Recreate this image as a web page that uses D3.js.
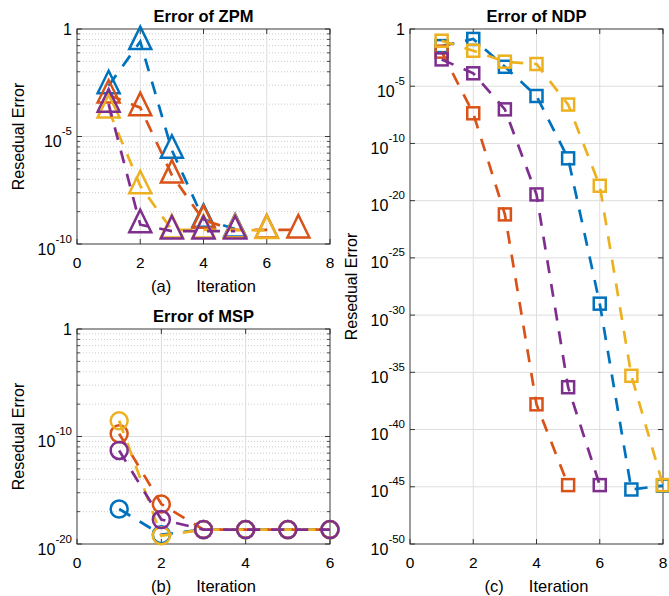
<!DOCTYPE html>
<html>
<head>
<meta charset="utf-8">
<script src="https://cdn.jsdelivr.net/npm/d3@7"></script>
<style>
  body { margin: 0; background: #fff; }
  text { font-family: "Liberation Sans", Arial, sans-serif; fill: #000; }
</style>
</head>
<body>
<svg id="chart" width="669" height="596"></svg>
<script>
// residual error per iteration, iteration = index + 1
var colors = ['#0072BD', '#D95319', '#EDB120', '#7E2F8E'];

var zpmBlue   = [2.3e-3, 2.6e-1, 2.3e-6, 1.4e-9, 5e-10];
var zpmOrange = [8.5e-4, 2.2e-4, 1.6e-7, 1.26e-9, 4.5e-10, 4.5e-10, 4.5e-10];
var zpmYellow = [1.7e-4, 5.1e-8, 4.5e-10, 4.5e-10, 4.5e-10, 4.3e-10];
var zpmPurple = [3.2e-4, 7.9e-10, 4e-10, 4e-10, 4e-10];

var mspBlue   = [1.8e-17, 7.4e-20, 2.2e-19, 2.2e-19, 2.2e-19, 2.2e-19];
var mspOrange = [1.8e-10, 5.2e-17, 2.2e-19, 2.2e-19, 2.2e-19, 2.2e-19];
var mspYellow = [2.9e-9, 6e-20, 2.2e-19, 2.2e-19, 2.2e-19, 2.2e-19];
var mspPurple = [5e-12, 1.9e-18, 2.2e-19, 2.2e-19, 2.2e-19, 2.2e-19];

var ndpBlue   = [3.2e-2, 1.35e-1, 5e-4, 1.4e-6, 5e-12, 1e-24, 5.8e-41, 1.26e-40];
var ndpOrange = [1.05e-2, 4.3e-8, 6.3e-17, 1.6e-33, 1.4e-40];
var ndpYellow = [9.5e-2, 1.26e-2, 1.4e-3, 8.7e-4, 2.5e-7, 2e-14, 5e-31, 1.4e-40];
var ndpPurple = [2.2e-3, 1.35e-4, 9.5e-8, 3.5e-15, 5e-32, 1.4e-40];

var zpmTicks = [1, 1e-5, 1e-10];
var zpmTickLabels = ['', '-5', '-10'];
var mspTicks = [1, 1e-10, 1e-20];
var mspTickLabels = ['', '-10', '-20'];
var ndpTicks = [1, 1e-5, 1e-10, 1e-15, 1e-20, 1e-25, 1e-30, 1e-35, 1e-40, 1e-45];
var ndpTickLabels = ['', '-5', '-10', '-20', '-25', '-30', '-35', '-40', '-45', '-50'];

var svg = d3.select('#chart');

function marker(g, shape, x, y, color) {
  if (shape == 'tri') {
    g.append('path')
      .attr('d', 'M' + x + ',' + (y - 15) + 'L' + (x + 11) + ',' + (y + 7.5) + 'L' + (x - 11) + ',' + (y + 7.5) + 'Z')
      .attr('fill', 'none').attr('stroke', color).attr('stroke-width', 2.5).attr('stroke-linejoin', 'miter');
  } else if (shape == 'circ') {
    g.append('circle').attr('cx', x).attr('cy', y).attr('r', 8.5)
      .attr('fill', 'none').attr('stroke', color).attr('stroke-width', 2.5);
  } else {
    g.append('rect').attr('x', x - 6).attr('y', y - 6).attr('width', 12).attr('height', 12)
      .attr('fill', 'none').attr('stroke', color).attr('stroke-width', 2.5);
  }
}

function panel(p) {
  var x = d3.scaleLinear().domain([0, p.xmax]).range([p.left, p.right]);
  var y = d3.scaleLog().domain([p.ymin, 1]).range([p.bottom, p.top]);
  var g = svg.append('g');

  // minor grid (dotted), placed like the original per major interval
  if (p.minor) {
    var minors = [];
    for (var i = 0; i < p.ticks.length - 1; i++) {
      var lo = Math.log10(p.ticks[i + 1]), step = Math.log10(p.ticks[i]) - lo;
      for (var m = 2; m <= 9; m++) minors.push(Math.pow(10, lo + step * Math.log10(m)));
    }
    g.selectAll('.mg').data(minors).enter().append('line')
      .attr('x1', p.left).attr('x2', p.right)
      .attr('y1', d => y(d)).attr('y2', d => y(d))
      .attr('stroke', '#bdbdbd').attr('stroke-width', 0.8).attr('stroke-dasharray', '1,2');
    // minor ticks
    g.selectAll('.mt').data(minors).enter().append('path')
      .attr('d', d => 'M' + p.left + ',' + y(d) + 'h3M' + p.right + ',' + y(d) + 'h-3')
      .attr('stroke', '#262626').attr('stroke-width', 0.8);
  }
  // major grid
  var xt = d3.range(0, p.xmax + 1, 2);
  g.selectAll('.gy').data(p.ticks.slice(1, -1)).enter().append('line')
    .attr('x1', p.left).attr('x2', p.right)
    .attr('y1', d => y(d)).attr('y2', d => y(d))
    .attr('stroke', '#dedede').attr('stroke-width', 1);
  g.selectAll('.gx').data(xt.slice(1, -1)).enter().append('line')
    .attr('y1', p.top).attr('y2', p.bottom)
    .attr('x1', d => x(d)).attr('x2', d => x(d))
    .attr('stroke', '#dedede').attr('stroke-width', 1);

  // box and major ticks
  g.append('rect').attr('x', p.left).attr('y', p.top)
    .attr('width', p.right - p.left).attr('height', p.bottom - p.top)
    .attr('fill', 'none').attr('stroke', '#262626').attr('stroke-width', 0.9);
  g.selectAll('.ty').data(p.ticks).enter().append('path')
    .attr('d', d => 'M' + p.left + ',' + y(d) + 'h5M' + p.right + ',' + y(d) + 'h-5')
    .attr('stroke', '#262626').attr('stroke-width', 0.9);
  g.selectAll('.tx').data(xt).enter().append('path')
    .attr('d', d => 'M' + x(d) + ',' + p.bottom + 'v-5M' + x(d) + ',' + p.top + 'v5')
    .attr('stroke', '#262626').attr('stroke-width', 0.9);

  // tick labels
  g.selectAll('.lx').data(xt).enter().append('text')
    .attr('x', d => x(d)).attr('y', p.bottom + 24)
    .attr('text-anchor', 'middle').attr('font-size', 15.5).text(d => d);
  p.ticks.forEach(function (t, i) {
    var lab = p.labels[i];
    var tx = g.append('text').attr('x', p.left - 5).attr('text-anchor', 'end').attr('font-size', 16);
    if (lab == '') {
      tx.attr('y', y(t) + 6).text('1');
    } else {
      tx.attr('y', y(t) + 10.5);
      tx.append('tspan').text('10');
      tx.append('tspan').attr('dy', -12).attr('font-size', 11.5).text(lab);
    }
  });

  // titles and labels
  var cx = (p.left + p.right) / 2;
  g.append('text').attr('x', cx).attr('y', p.top - 7).attr('text-anchor', 'middle')
    .attr('font-size', 16.5).attr('font-weight', 'bold').text(p.title);
  var xl = g.append('text').attr('x', cx).attr('y', p.bottom + 48)
    .attr('text-anchor', 'middle').attr('font-size', 16.5);
  xl.append('tspan').text(p.tag);
  xl.append('tspan').attr('dx', 25).text('Iteration');
  g.append('text')
    .attr('transform', 'translate(' + p.ylabX + ',' + (p.top + p.bottom) / 2 + ') rotate(-90)')
    .attr('text-anchor', 'middle').attr('font-size', 16).text('Resedual Error');

  // series: dashed line then hollow markers
  p.series.forEach(function (s, k) {
    var line = d3.line().x((d, i) => x(i + 1)).y(d => y(d));
    g.append('path').attr('d', line(s)).attr('fill', 'none')
      .attr('stroke', colors[k]).attr('stroke-width', 2.7).attr('stroke-dasharray', '13,11');
    s.forEach(function (d, i) { marker(g, p.shape, x(i + 1), y(d), colors[k]); });
  });
}

panel({ left: 77, right: 330, top: 29, bottom: 244, xmax: 8, ymin: 1e-10,
  ticks: zpmTicks, labels: zpmTickLabels, minor: true, shape: 'tri',
  title: 'Error of ZPM', tag: '(a)', ylabX: 24,
  series: [zpmBlue, zpmOrange, zpmYellow, zpmPurple] });

panel({ left: 77, right: 330, top: 329, bottom: 544, xmax: 6, ymin: 1e-20,
  ticks: mspTicks, labels: mspTickLabels, minor: true, shape: 'circ',
  title: 'Error of MSP', tag: '(b)', ylabX: 24,
  series: [mspBlue, mspOrange, mspYellow, mspPurple] });

panel({ left: 410, right: 663, top: 29, bottom: 544, xmax: 8, ymin: 1e-45,
  ticks: ndpTicks, labels: ndpTickLabels, minor: false, shape: 'sq',
  title: 'Error of NDP', tag: '(c)', ylabX: 357,
  series: [ndpBlue, ndpOrange, ndpYellow, ndpPurple] });
</script>
</body>
</html>
